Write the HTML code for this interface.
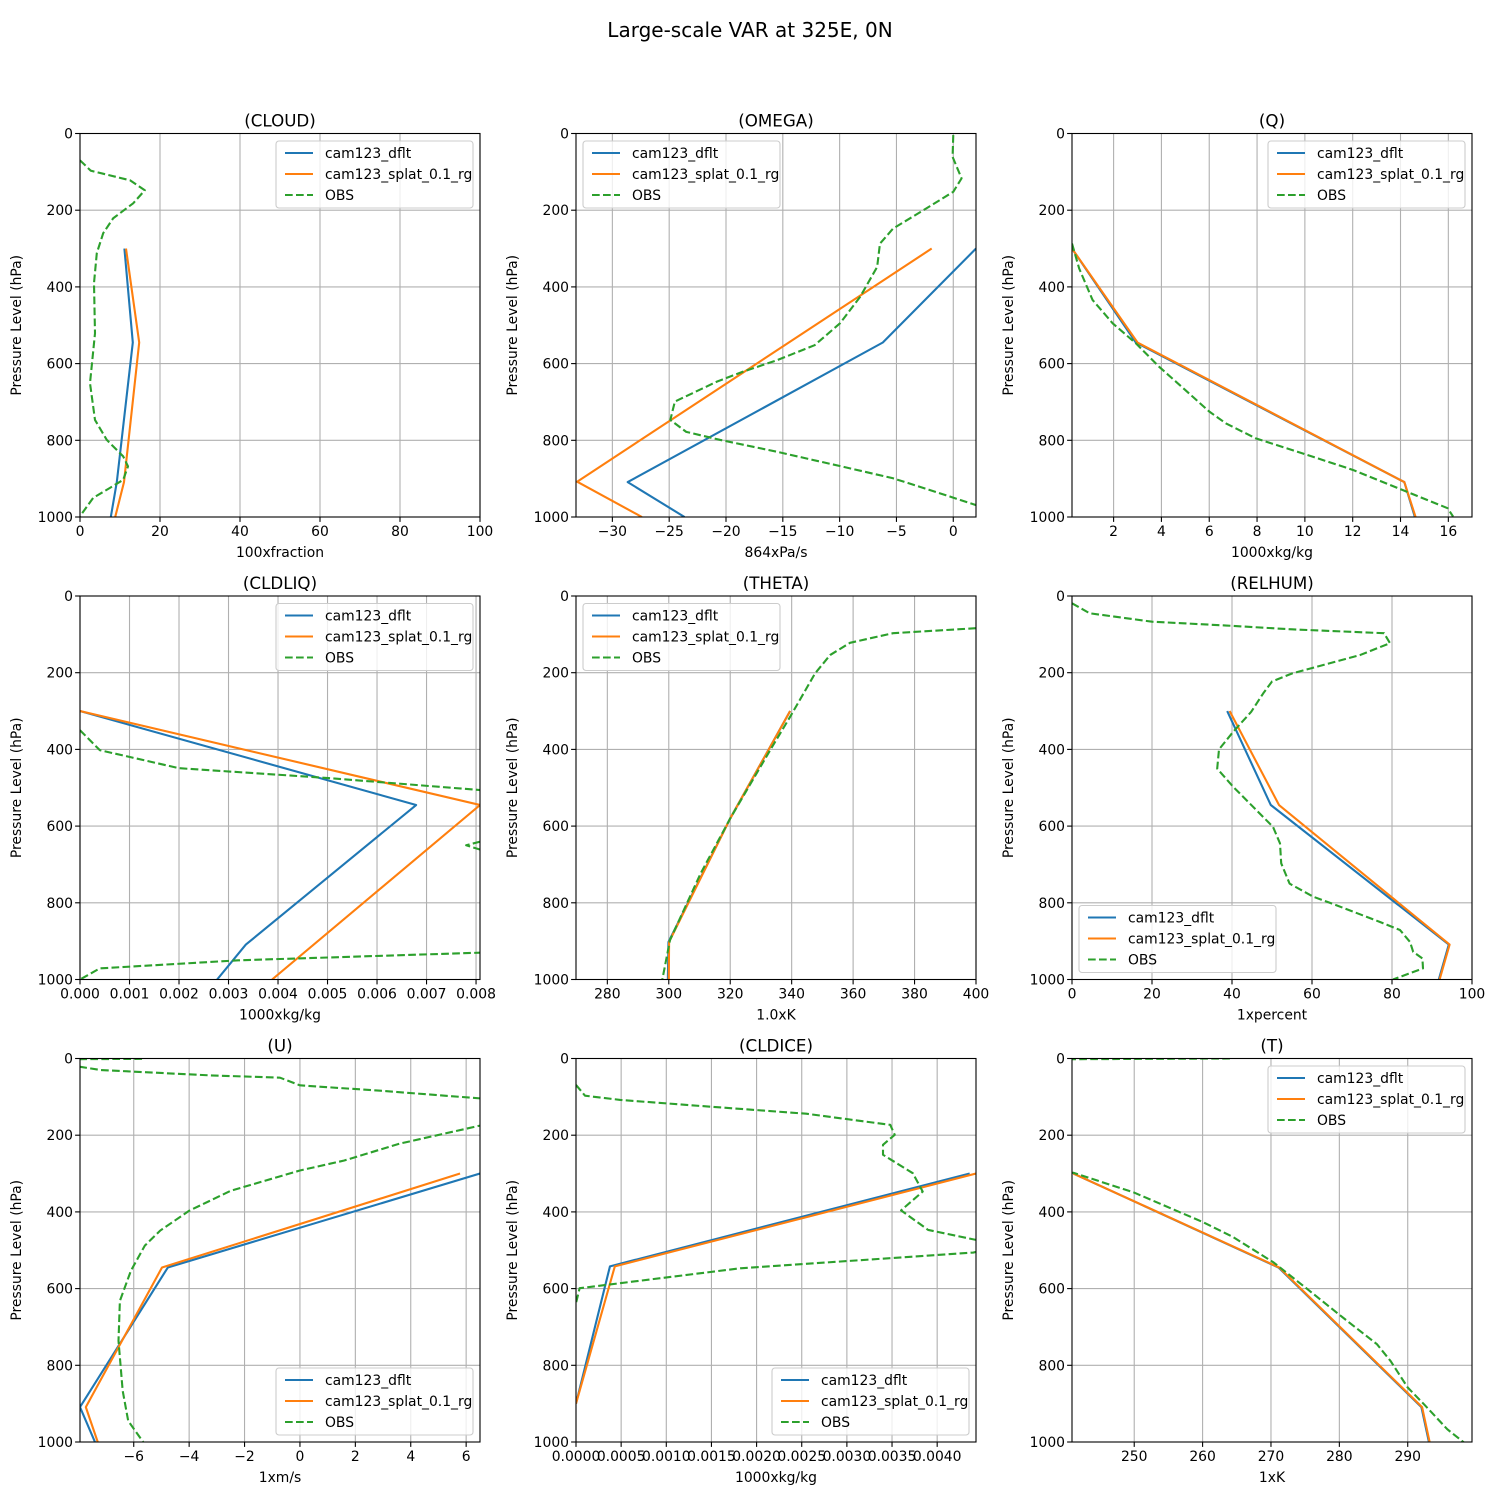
<!DOCTYPE html>
<html><head><meta charset="utf-8"><title>Large-scale VAR at 325E, 0N</title>
<style>
html,body{margin:0;padding:0;background:#fff;}
svg{display:block;font-family:"DejaVu Sans","Liberation Sans",sans-serif;}
</style></head>
<body>
<svg id="fig" width="1500" height="1500" viewBox="0 0 1500 1500" xmlns="http://www.w3.org/2000/svg">
<rect width="1500" height="1500" fill="#fff"/>
<text x="750" y="37" font-size="20" text-anchor="middle">Large-scale VAR at 325E, 0N</text>
</svg>
<script>
// ---- data (pressure levels in hPa, values in plotted units) ----
const modelLev = [300, 545, 909, 1000];

const cloudDflt = [11.1, 13.2, 9.2, 7.7];
const cloudSplat = [11.5, 14.8, 11.0, 8.8];
const cloudObsLev = [70, 97, 122, 148, 182, 221, 260, 312, 390, 521, 651, 747, 799, 842, 868, 903, 924, 950, 998];
const cloudObs = [0, 2.7, 12.5, 16.2, 13.3, 8.3, 5.8, 4.2, 3.5, 3.75, 2.5, 3.75, 6.7, 10.8, 12, 10.8, 7.5, 3.3, 0];
const cloudTicks = [0, 20, 40, 60, 80, 100];

const omegaDflt = [2.0, -6.2, -28.65, -23.65];
const omegaSplat = [-1.9, -17.5, -33.1, -27.4];
const omegaObsLev = [4, 61, 117, 152, 195, 248, 287, 348, 426, 495, 552, 591, 621, 647, 699, 747, 778, 799, 830, 869, 899, 938, 969, 1000];
const omegaObs = [0, -0.06, 0.73, 0, -2.35, -5.3, -6.45, -6.7, -8.2, -9.97, -12.2, -15.5, -18.5, -20.8, -24.5, -24.9, -23.5, -20.5, -15.5, -9.7, -5.3, -1.2, 2, 4];
const omegaTicks = [-30, -25, -20, -15, -10, -5, 0];

const qDflt = [0.26, 2.93, 14.16, 14.6];
const qSplat = [0.26, 3.0, 14.16, 14.63];
const qObsLev = [287, 352, 434, 495, 547, 608, 669, 725, 756, 795, 834, 877, 930, 977, 999];
const qObs = [0.26, 0.56, 1.12, 1.96, 2.93, 3.9, 5.0, 6.0, 6.7, 7.95, 9.9, 12, 14.1, 15.97, 16.2];
const qTicks = [2, 4, 6, 8, 10, 12, 14, 16];

const liqDflt = [0, 0.00679, 0.00335, 0.00277];
const liqSplat = [0, 0.00808, 0.00555, 0.00388];
const liqObsLev = [350, 402, 449, 475, 506, 560, 640, 650, 662, 700, 800, 930, 950, 971, 1000];
const liqObs = [0, 0.0004, 0.002, 0.00505, 0.00808, 0.0095, 0.0081, 0.0078, 0.0081, 0.0095, 0.012, 0.0081, 0.0032, 0.0004, 0];
const liqTicks = [0, 0.001, 0.002, 0.003, 0.004, 0.005, 0.006, 0.007, 0.008];

const thetaDflt = [339.5, 320, 299.9, 299.7];
const thetaSplat = [339.5, 320, 300.1, 300.0];
const thetaObsLev = [84, 97, 122, 154, 202, 315, 402, 580, 723, 897, 1000];
const thetaObs = [400, 373, 359, 352.5, 347.6, 339.5, 333, 320, 310.4, 300.4, 297.9];
const thetaTicks = [280, 300, 320, 340, 360, 380, 400];

const rhDflt = [38.8, 49.7, 94.2, 91.7];
const rhSplat = [39.4, 51.75, 94.4, 91.9];
const rhObsLev = [19, 45, 67, 77, 87, 97, 123, 154, 202, 223, 254, 302, 354, 400, 450, 497, 602, 645, 697, 750, 784, 806, 850, 871, 902, 928, 945, 971, 1000];
const rhObs = [0, 4.4, 20, 38.6, 55, 78, 79.5, 72, 55, 50, 47.8, 44.8, 40.3, 36.75, 36.3, 40.25, 50.25, 52, 52.3, 54.4, 60.3, 66, 77, 82, 84.5, 85.3, 87.6, 87.75, 80.25];
const rhTicks = [0, 20, 40, 60, 80, 100];

const uDflt = [6.5, -4.77, -7.94, -7.4];
const uSplat = [5.78, -4.98, -7.73, -7.3];
const uObsLev = [1, 2, 22, 30, 44, 50, 70, 84, 104, 140, 175, 222, 266, 292, 345, 397, 449, 488, 553, 632, 736, 866, 945, 1000];
const uObs = [-5.7, -9, -7.9, -7.2, -3.25, -0.72, 0, 2.9, 6.5, 9, 6.5, 3.6, 1.6, 0, -2.5, -4, -5.05, -5.6, -6.1, -6.5, -6.55, -6.4, -6.2, -5.66];
const uTicks = [-6, -4, -2, 0, 2, 4, 6];

const iceDflt = [0.00436, 0.000376, 0];
const iceSplat = [0.00443, 0.00043, 0];
const iceLev = [300, 542, 900];
const iceObsLev = [69, 97, 108, 125, 144, 173, 199, 225, 251, 299, 347, 396, 447, 473, 490, 506, 547, 599, 638];
const iceObs = [0, 0.0001, 0.00049, 0.00145, 0.00255, 0.00348, 0.00353, 0.0034, 0.0034, 0.00373, 0.00384, 0.0036, 0.0039, 0.00443, 0.0047, 0.0044, 0.00182, 0.00004, 0];
const iceTicks = [0, 0.0005, 0.001, 0.0015, 0.002, 0.0025, 0.003, 0.0035, 0.004];

const tDflt = [241.1, 271.1, 292.0, 293.1];
const tSplat = [241.1, 271.2, 292.1, 293.2];
const tObsLev = [0, 5, 290, 298, 349, 401, 427, 466, 532, 601, 671, 745, 789, 858, 902, 967, 1001];
const tObs = [264, 200, 200, 241.1, 249.9, 256.7, 260.1, 264.5, 270.4, 275.3, 280.2, 285.5, 287.5, 290, 292.4, 295.8, 298.2];
const tTicks = [250, 260, 270, 280, 290];

const yTicks = [0, 200, 400, 600, 800, 1000];
const legendLabels = ['cam123_dflt', 'cam123_splat_0.1_rg', 'OBS'];

// ---- layout ----
const colX = [80, 576, 1072], rowY = [133.5, 596, 1058.5], W = 400, H = 383.5;
const panels = [
 {name:'cloud', title:'(CLOUD)', xl:'100xfraction', xmin:0, xmax:100, ticks:cloudTicks, dec:0, d:cloudDflt, dl:modelLev, s:cloudSplat, sl:modelLev, o:cloudObs, ol:cloudObsLev, leg:'ur'},
 {name:'omega', title:'(OMEGA)', xl:'864xPa/s', xmin:-33.2, xmax:2.0, ticks:omegaTicks, dec:0, d:omegaDflt, dl:modelLev, s:[omegaSplat[0],omegaSplat[2],omegaSplat[3]], sl:[300,908,1000], o:omegaObs, ol:omegaObsLev, leg:'ul'},
 {name:'q', title:'(Q)', xl:'1000xkg/kg', xmin:0.26, xmax:16.99, ticks:qTicks, dec:0, d:qDflt, dl:modelLev, s:qSplat, sl:modelLev, o:qObs, ol:qObsLev, leg:'ur'},
 {name:'cldliq', title:'(CLDLIQ)', xl:'1000xkg/kg', xmin:0, xmax:0.00808, ticks:liqTicks, dec:3, d:liqDflt, dl:modelLev, s:[liqSplat[0],liqSplat[1],liqSplat[3]], sl:[300,545,1000], o:liqObs, ol:liqObsLev, leg:'ur'},
 {name:'theta', title:'(THETA)', xl:'1.0xK', xmin:269.8, xmax:400, ticks:thetaTicks, dec:0, d:thetaDflt, dl:[300,580,902,1000], s:thetaSplat, sl:[300,580,902,1000], o:thetaObs, ol:thetaObsLev, leg:'ul'},
 {name:'relhum', title:'(RELHUM)', xl:'1xpercent', xmin:0, xmax:100, ticks:rhTicks, dec:0, d:rhDflt, dl:modelLev, s:rhSplat, sl:modelLev, o:rhObs, ol:rhObsLev, leg:'ll'},
 {name:'u', title:'(U)', xl:'1xm/s', xmin:-7.94, xmax:6.5, ticks:uTicks, dec:0, d:uDflt, dl:modelLev, s:uSplat, sl:modelLev, o:uObs, ol:uObsLev, leg:'lr'},
 {name:'cldice', title:'(CLDICE)', xl:'1000xkg/kg', xmin:0, xmax:0.00443, ticks:iceTicks, dec:4, d:iceDflt, dl:iceLev, s:iceSplat, sl:iceLev, o:iceObs, ol:iceObsLev, leg:'lr'},
 {name:'t', title:'(T)', xl:'1xK', xmin:240.9, xmax:299.4, ticks:tTicks, dec:0, d:tDflt, dl:modelLev, s:tSplat, sl:modelLev, o:tObs, ol:tObsLev, leg:'ur'}
];

const NS = 'http://www.w3.org/2000/svg';
const fig = document.getElementById('fig');
function mk(tag, attrs, parent){ const e=document.createElementNS(NS,tag); for(const k in attrs) e.setAttribute(k,attrs[k]); (parent||fig).appendChild(e); return e; }
function fmt(v,dec){ let s=v.toFixed(dec); if(v<0) s='\u2212'+(-v).toFixed(dec); if(parseFloat(s.replace('\u2212','-'))===0) s=(0).toFixed(dec); return s; }

panels.forEach((P,i)=>{
  const x0 = colX[i%3], y0 = rowY[Math.floor(i/3)];
  const g = mk('g',{});
  
  
  const xs = v => x0 + (v-P.xmin)/(P.xmax-P.xmin)*W;
  const ys = p => y0 + p/1000*H;
  const cp = mk('clipPath',{id:'clip'+i}, g);
  mk('rect',{x:x0,y:y0,width:W,height:H},cp);
  P.ticks.forEach(t=>{
    const gx = xs(t);
    const l = mk('line',{x1:gx,x2:gx,y1:y0,y2:y0+H,stroke:'#b0b0b0','stroke-width':1.1},g);
    
    
    mk('line',{x1:gx,x2:gx,y1:y0+H,y2:y0+H+4.9,stroke:'#000','stroke-width':1.1},g);
    const tx = mk('text',{x:gx,y:y0+H+19,'font-size':13.9,'text-anchor':'middle'},g);
    tx.textContent = fmt(t,P.dec);
    
    
  });
  yTicks.forEach(t=>{
    const gy = ys(t);
    const l = mk('line',{x1:x0,x2:x0+W,y1:gy,y2:gy,stroke:'#b0b0b0','stroke-width':1.1},g);
    
    
    mk('line',{x1:x0-4.9,x2:x0,y1:gy,y2:gy,stroke:'#000','stroke-width':1.1},g);
    const tx = mk('text',{x:x0-7,y:gy+5,'font-size':13.9,'text-anchor':'end'},g);
    tx.textContent = String(t);
    
    
  });
  const series = [
    {v:P.d, l:P.dl, c:'#1f77b4', dash:null, n:'series-dflt'},
    {v:P.s, l:P.sl, c:'#ff7f0e', dash:null, n:'series-splat'},
    {v:P.o, l:P.ol, c:'#2ca02c', dash:'7.7,3.3', n:'series-obs'}
  ];
  const sg = mk('g',{'clip-path':'url(#clip'+i+')'},g);
  series.forEach(S=>{
    const pts = S.v.map((v,k)=>xs(v).toFixed(2)+','+ys(S.l[k]).toFixed(2)).join(' ');
    const pl = mk('polyline',{points:pts,fill:'none',stroke:S.c,'stroke-width':2.1,'stroke-linejoin':'round'},sg);
    if(S.dash) pl.setAttribute('stroke-dasharray',S.dash);
    
    
  });
  const fr = mk('rect',{x:x0,y:y0,width:W,height:H,fill:'none',stroke:'#000','stroke-width':1.1},g);
  
  
  const tt = mk('text',{x:x0+W/2,y:y0-7,'font-size':16.7,'text-anchor':'middle'},g);
  tt.textContent = P.title;
  
  
  const xl = mk('text',{x:x0+W/2,y:y0+H+40,'font-size':13.9,'text-anchor':'middle'},g);
  xl.textContent = P.xl;
  
  
  const yl = mk('text',{x:0,y:0,'font-size':13.9,'text-anchor':'middle',transform:'translate('+(x0-59)+','+(y0+H/2)+') rotate(-90)'},g);
  yl.textContent = 'Pressure Level (hPa)';
  
  
  const lw = 197, lh = 67;
  let lx = (P.leg==='ur'||P.leg==='lr') ? x0+W-7-lw : x0+7;
  let ly = (P.leg==='ur'||P.leg==='ul') ? y0+7.5 : y0+H-7-lh;
  const lg = mk('g',{},g);
  
  
  mk('rect',{x:lx,y:ly,width:lw,height:lh,rx:3,fill:'#fff','fill-opacity':0.8,stroke:'#cccccc','stroke-width':1.1},lg);
  series.forEach((S,k)=>{
    const cy = ly+12+k*21;
    const ln = mk('line',{x1:lx+9,x2:lx+37,y1:cy,y2:cy,stroke:S.c,'stroke-width':2.1},lg);
    if(S.dash) ln.setAttribute('stroke-dasharray',S.dash);
    
    
    const t = mk('text',{x:lx+49,y:cy+5,'font-size':13.9},lg);
    t.textContent = legendLabels[k];
    
    
  });
});
</script>
</body></html>
